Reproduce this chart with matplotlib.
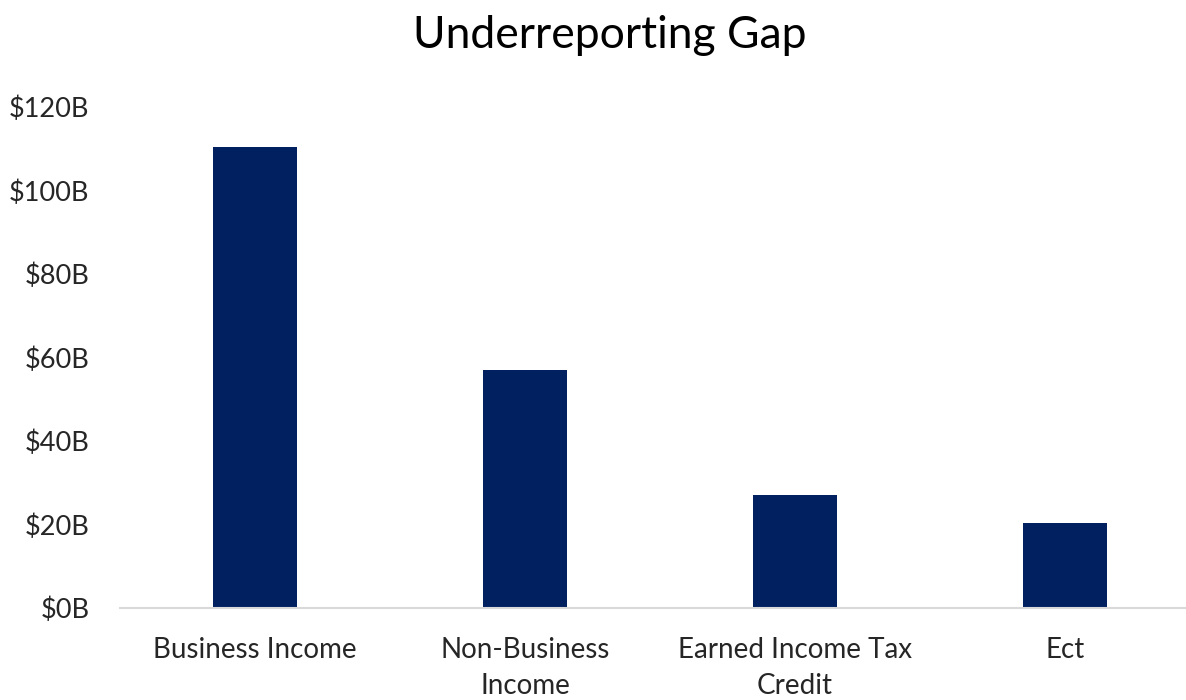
import matplotlib
matplotlib.use("Agg")
import matplotlib.pyplot as plt
from matplotlib.ticker import FuncFormatter

categories = ["Business Income", "Non-Business\nIncome", "Earned Income Tax\nCredit", "Ect"]
values = [110.4, 57, 27, 20.3]
yticks = [0, 20, 40, 60, 80, 100, 120]

plt.rcParams['font.family'] = ['Lato', 'DejaVu Sans']

fig = plt.figure(figsize=(11.86, 7.0), dpi=100)
ax = fig.add_axes([120/1186, 92/700, 1066/1186, 501/700])

x = list(range(len(categories)))
ax.bar(x, values, width=0.31, color="#002060", zorder=2)

ax.set_xlim(-0.5, -0.5 + 1066/270)
ax.set_ylim(0, 120)
ax.set_yticks(yticks)
ax.yaxis.set_major_formatter(FuncFormatter(lambda v, p: f"${int(v)}B"))
ax.set_xticks(x)
ax.set_xticklabels(categories, fontsize=20, color="#262626", linespacing=1.45)
ax.tick_params(axis='y', labelsize=19.5, labelcolor="#262626", length=0, pad=22)
ax.tick_params(axis='x', length=0, pad=21)

for s in ["top", "right", "left"]:
    ax.spines[s].set_visible(False)
ax.spines["bottom"].set_color("#d9d9d9")
ax.spines["bottom"].set_linewidth(1.5)

fig.text(610/1186, 1 - 36/700, "Underreporting Gap", fontsize=32, ha="center", va="center", color="#000000")

fig.savefig("out.png", dpi=100)
